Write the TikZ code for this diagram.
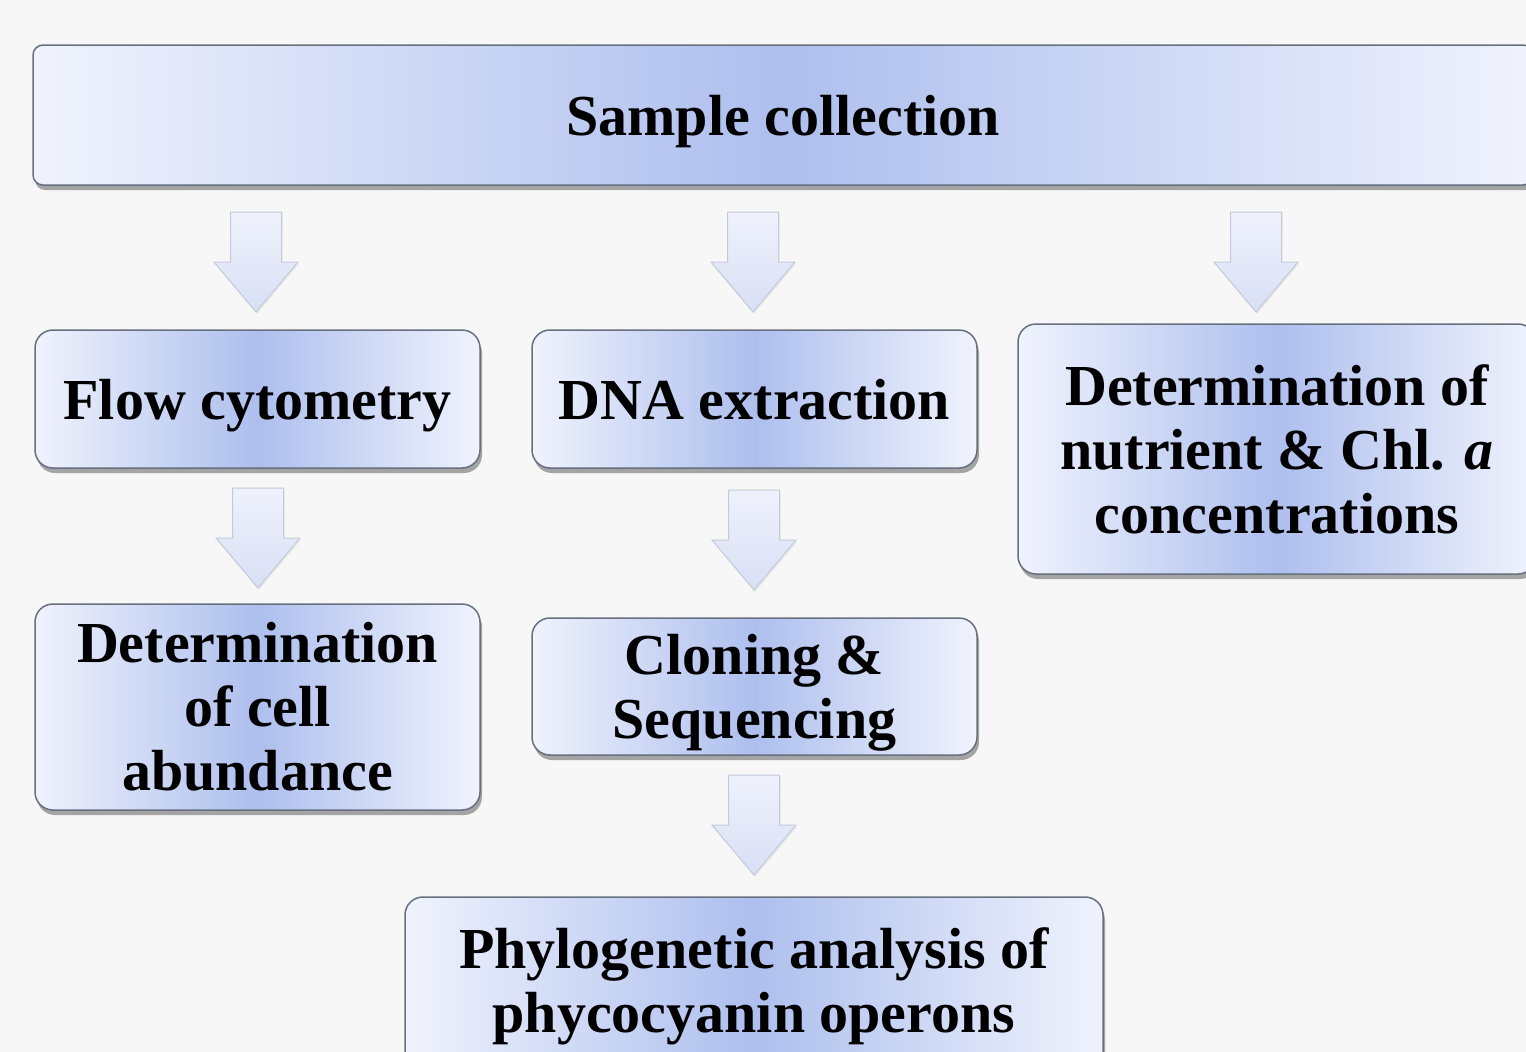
\documentclass[tikz,border=0pt]{standalone}
\usepackage{fontspec}
\setmainfont{Liberation Serif}
\usetikzlibrary{shadows}
\definecolor{pagebg}{HTML}{F7F7F7}
\definecolor{boxlight}{HTML}{F0F3FD}
\definecolor{boxmid}{HTML}{AEBFEE}
\definecolor{boxline}{HTML}{66707F}
\definecolor{arrtop}{HTML}{EFF1FC}
\definecolor{arrbot}{HTML}{D9E0F5}
\definecolor{arrline}{HTML}{C3CADA}
\newcommand{\blockarrow}[1]{\path[arrowbody] (#1) ++(-25.5,0) -- ++(51,0) -- ++(0,50) -- ++(16.5,0) -- ++(-42,50) -- ++(-42,-50) -- ++(16.5,0) -- cycle;}
\begin{document}
\begin{tikzpicture}[x=1pt,y=-1pt,
  box/.style={draw=boxline,line width=1.5pt,rounded corners=18pt,
    left color=boxlight,right color=boxlight,middle color=boxmid,
    align=center,inner sep=0pt,
    font=\bfseries\fontsize{58}{64}\selectfont,
    drop shadow={shadow xshift=2pt,shadow yshift=-5pt,opacity=0.45,fill=black!75}},
  oneline/.style={text depth=0pt},
  arrowbody/.style={draw=arrline,line width=1pt,top color=arrtop,bottom color=arrbot,
    drop shadow={shadow xshift=1pt,shadow yshift=-2pt,opacity=0.12}}]
\useasboundingbox (0,0) rectangle (1526,1052);
\clip (0,0) rectangle (1526,1052);
\fill[pagebg] (0,0) rectangle (1526,1052);
\node[box,oneline,rounded corners=10pt,minimum width=1500pt,minimum height=140pt] (sc) at (783,115) {Sample collection};
\node[box,oneline,minimum width=445pt,minimum height=138pt] (fc) at (257.5,399) {Flow cytometry};
\node[box,oneline,minimum width=445pt,minimum height=138pt] (dna) at (754.5,399) {DNA extraction};
\node[box,minimum width=518pt,minimum height=250pt] (nut) at (1277,449) {Determination of\\nutrient \& Chl. \textit{a}\\concentrations};
\node[box,minimum width=445pt,minimum height=206pt] (cab) at (257.5,707) {Determination\\of cell\\abundance};
\node[box,oneline,minimum width=445pt,minimum height=137pt] (cs) at (754.5,686.5) {Cloning \&\\Sequencing};
\node[box,minimum width=698pt,minimum height=178pt] (phy) at (754,986) {Phylogenetic analysis of\\phycocyanin operons};
\coordinate (a1) at (256,212); \coordinate (a2) at (753,212); \coordinate (a3) at (1256,212);
\coordinate (a4) at (258,488); \coordinate (a5) at (754,490); \coordinate (a6) at (754,775);
\blockarrow{a1} \blockarrow{a2} \blockarrow{a3}
\blockarrow{a4} \blockarrow{a5} \blockarrow{a6}
\end{tikzpicture}
\end{document}
